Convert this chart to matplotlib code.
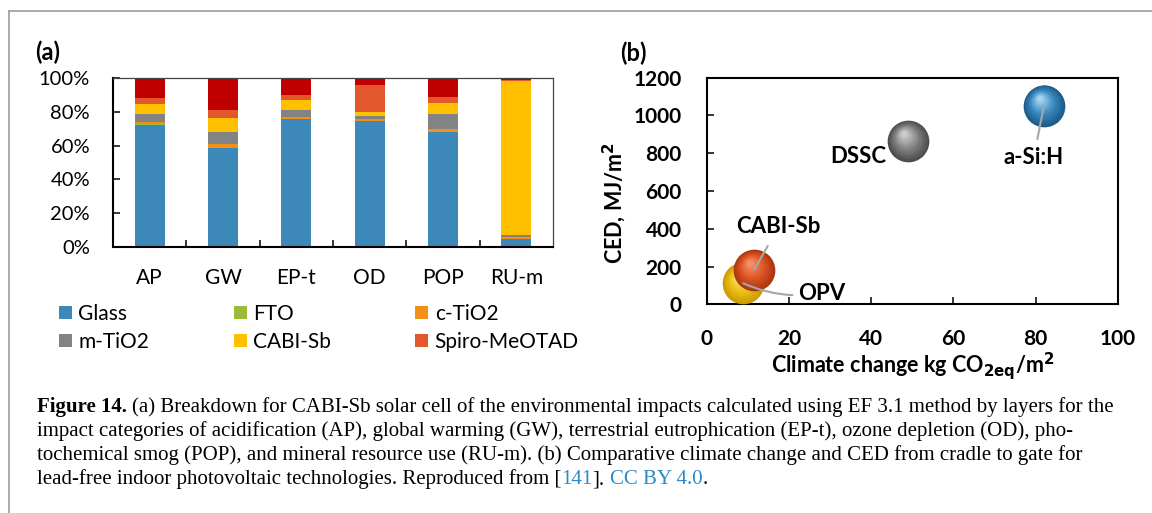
import numpy as np
import matplotlib
matplotlib.use("Agg")
import matplotlib.pyplot as plt
import matplotlib.transforms as mtransforms
import matplotlib.colors as mcolors
from matplotlib.lines import Line2D

# ---- data ----
categories = ["AP", "GW", "EP-t", "OD", "POP", "RU-m"]
layers = ["Glass", "FTO", "c-TiO2", "m-TiO2", "CABI-Sb", "Spiro-MeOTAD", "Au"]
glass = [72.3, 58.8, 75.8, 74.7, 68.3, 4.5]
fto = [0.3, 0.3, 0.2, 0.2, 0.2, 0.2]
c_tio2 = [1.7, 1.7, 1.0, 1.0, 1.4, 1.2]
m_tio2 = [4.4, 7.5, 4.0, 2.0, 9.1, 1.0]
cabi_sb = [5.9, 7.9, 6.0, 2.0, 6.3, 91.7]
spiro = [3.6, 4.8, 3.2, 16.1, 3.6, 0.2]
au = [11.8, 19.0, 9.8, 4.0, 11.1, 1.2]
layer_colors = ["#3C88B8", "#9BBB3B", "#F28F14", "#838383", "#FFC000", "#E2572B", "#C00000"]

tech = ["OPV", "CABI-Sb", "DSSC", "a-Si:H"]
climate = [8.9, 11.5, 49.0, 82.0]
ced = [111, 181, 865, 1052]

W, H = 1152, 513
fig = plt.figure(figsize=(W / 100, H / 100), dpi=100)
fig.patch.set_facecolor("white")
plt.rcParams["font.family"] = ["Lato", "DejaVu Sans"]

# ---- (a) stacked bars ----
ax1 = fig.add_axes([113 / W, 1 - 246.7 / H, 440 / W, 168.4 / H])
x = np.arange(len(categories))
series = [glass, fto, c_tio2, m_tio2, cabi_sb, spiro, au]
bottom = np.zeros(len(categories))
bars = []
for name, vals, col in zip(layers, series, layer_colors):
    b = ax1.bar(x, vals, 0.41, bottom=bottom, color=col, label=name, linewidth=0)
    bars.append(b)
    bottom += np.array(vals)

ax1.set_xlim(-0.5, len(categories) - 0.5)
ax1.set_ylim(0, 100)
ax1.set_yticks(np.arange(0, 101, 20))
ax1.set_yticklabels([f"{v}%" for v in range(0, 101, 20)])
ax1.set_xticks(x)
ax1.set_xticklabels(categories)
ax1.set_xticks(np.arange(0.5, len(categories) - 1, 1), minor=True)
ax1.tick_params(axis="y", direction="in", length=5, width=1.1, pad=16.5, labelsize=14.5)
ax1.tick_params(axis="x", which="major", length=0, pad=15, labelsize=15)
ax1.tick_params(axis="x", which="minor", direction="in", length=5, width=1.1)
for s in ["left", "bottom"]:
    ax1.spines[s].set_linewidth(1.5)
for s in ["top", "right"]:
    ax1.spines[s].set_linewidth(0.9)
    ax1.spines[s].set_color("#444444")

# legend: 3 columns, row-wise order
order = [0, 3, 1, 4, 2, 5]
fig.legend([bars[i] for i in order], [layers[i] for i in order], ncol=3,
           loc="upper left", bbox_to_anchor=(59 / W, 1 - 304 / H),
           frameon=False, fontsize=15, handlelength=0.63, handleheight=0.63,
           handletextpad=0.3, columnspacing=4.05, labelspacing=0.38,
           borderpad=0, borderaxespad=0)

fig.text(35 / W, 1 - 52 / H, "(a)", fontsize=17, fontweight="bold", va="center")

# ---- (b) bubble chart ----
ax2 = fig.add_axes([706.7 / W, 1 - 304.3 / H, 411.3 / W, 226.6 / H])
ax2.set_xlim(0, 100)
ax2.set_ylim(0, 1200)
ax2.set_xticks(np.arange(0, 101, 20))
ax2.set_yticks(np.arange(0, 1201, 200))
ax2.tick_params(direction="in", length=5, width=1.1, labelsize=15)
ax2.tick_params(axis="x", pad=17.5)
ax2.tick_params(axis="y", pad=18)
for lab in ax2.get_xticklabels() + ax2.get_yticklabels():
    lab.set_fontweight("bold")
for s in ax2.spines.values():
    s.set_linewidth(1.5)
ax2.set_xlabel("Climate change kg CO$_{\\mathbf{2eq}}$/m$^{\\mathbf{2}}$", fontsize=15.5, fontweight="bold")
ax2.set_ylabel("CED, MJ/m$^{\\mathbf{2}}$", fontsize=15.5, fontweight="bold")
ax2.xaxis.set_label_coords(0.5, -0.2)
ax2.yaxis.set_label_coords(-0.192, 0.447)
fig.text(620 / W, 1 - 53 / H, "(b)", fontsize=17, fontweight="bold", va="center")

ball_cols = {
    "OPV": ("#C99A00", "#EDBE12", "#FBE37A"),
    "CABI-Sb": ("#A8360F", "#DD5322", "#F39266"),
    "DSSC": ("#4A4A4A", "#7E7E7E", "#CFCFCF"),
    "a-Si:H": ("#1D5A85", "#3787BF", "#A5D7F3"),
}


def mix(c1, c2, t):
    a = np.array(mcolors.to_rgb(c1))
    b = np.array(mcolors.to_rgb(c2))
    return tuple(a + (b - a) * t)


def draw_ball(ax, bx, by, cols, z, rad=15.0, n=26):
    dark, base, light = cols
    for i in range(n):
        t = i / (n - 1)
        r = rad * (1 - 0.9 * t)
        off = rad * 0.36 * t
        tr = mtransforms.offset_copy(ax.transData, fig=ax.figure, x=-off * 0.6, y=off, units="points")
        if t < 0.45:
            c = mix(dark, base, t / 0.45)
        else:
            c = mix(base, light, (t - 0.45) / 0.55)
        ax.scatter([bx], [by], s=(2 * r) ** 2, color=c, transform=tr,
                   zorder=z + i * 0.01, linewidths=0, clip_on=False)


for k, (name, cx, cy) in enumerate(zip(tech, climate, ced)):
    draw_ball(ax2, cx, cy, ball_cols[name], z=3 + k)

lab_kw = dict(fontsize=16, fontweight="bold", zorder=10)
lead = dict(arrowstyle="-", color="#A6A6A6", lw=1.5, shrinkB=0)
ax2.text(43.6, 782, "DSSC", ha="right", va="center", **lab_kw)
ax2.annotate("a-Si:H", xy=(climate[3], ced[3]), xytext=(79.5, 776), ha="center", va="center",
             arrowprops=dict(lead, shrinkA=4), **lab_kw)
ax2.annotate("CABI-Sb", xy=(climate[1], ced[1]), xytext=(17.5, 411), ha="center", va="center",
             arrowprops=dict(lead, shrinkA=5), **lab_kw)
ax2.annotate("OPV", xy=(climate[0], ced[0]), xytext=(22.2, 58), ha="left", va="center",
             arrowprops=dict(lead, shrinkA=2, connectionstyle="arc3,rad=-0.15"), **lab_kw)

# ---- caption ----
renderer = fig.canvas.get_renderer()
cap_kw = dict(family=["Liberation Serif", "DejaVu Serif"], fontsize=15, va="baseline")
blue = "#2B8AC6"


def text_w(s, **kw):
    t = fig.text(0, 0, s, **kw)
    w = t.get_window_extent(renderer).width
    t.remove()
    return w


space = text_w("a a", **cap_kw) - text_w("aa", **cap_kw)


def chain(x0, y0, pieces):
    xp = x0
    for s, col, wt, gap in pieces:
        t = fig.text(xp / W, 1 - y0 / H, s, color=col, fontweight=wt, **cap_kw)
        xp += t.get_window_extent(renderer).width + (space if gap else 0)


cap_x = 37
chain(cap_x, 412, [("Figure 14.", "black", "bold", True),
                   ("(a) Breakdown for CABI-Sb solar cell of the environmental impacts calculated "
                    "using EF 3.1 method by layers for the", "black", "normal", False)])
chain(cap_x, 436, [("impact categories of acidification (AP), global warming (GW), terrestrial "
                    "eutrophication (EP-t), ozone depletion (OD), pho-", "black", "normal", False)])
chain(cap_x, 460, [("tochemical smog (POP), and mineral resource use (RU-m). (b) Comparative "
                    "climate change and CED from cradle to gate for", "black", "normal", False)])
chain(cap_x, 484, [("lead-free indoor photovoltaic technologies. Reproduced from [", "black", "normal", False),
                   ("141", blue, "normal", False),
                   ("].", "black", "normal", True),
                   ("CC BY 4.0", blue, "normal", False),
                   (".", "black", "normal", False)])

# frame lines
fig.add_artist(Line2D([9 / W, 9 / W], [1 - 11 / H, 0], color="#9C9C9C", lw=1.2))
fig.add_artist(Line2D([9 / W, 1], [1 - 11 / H, 1 - 11 / H], color="#9C9C9C", lw=1.2))

fig.savefig("out.png", dpi=100)
